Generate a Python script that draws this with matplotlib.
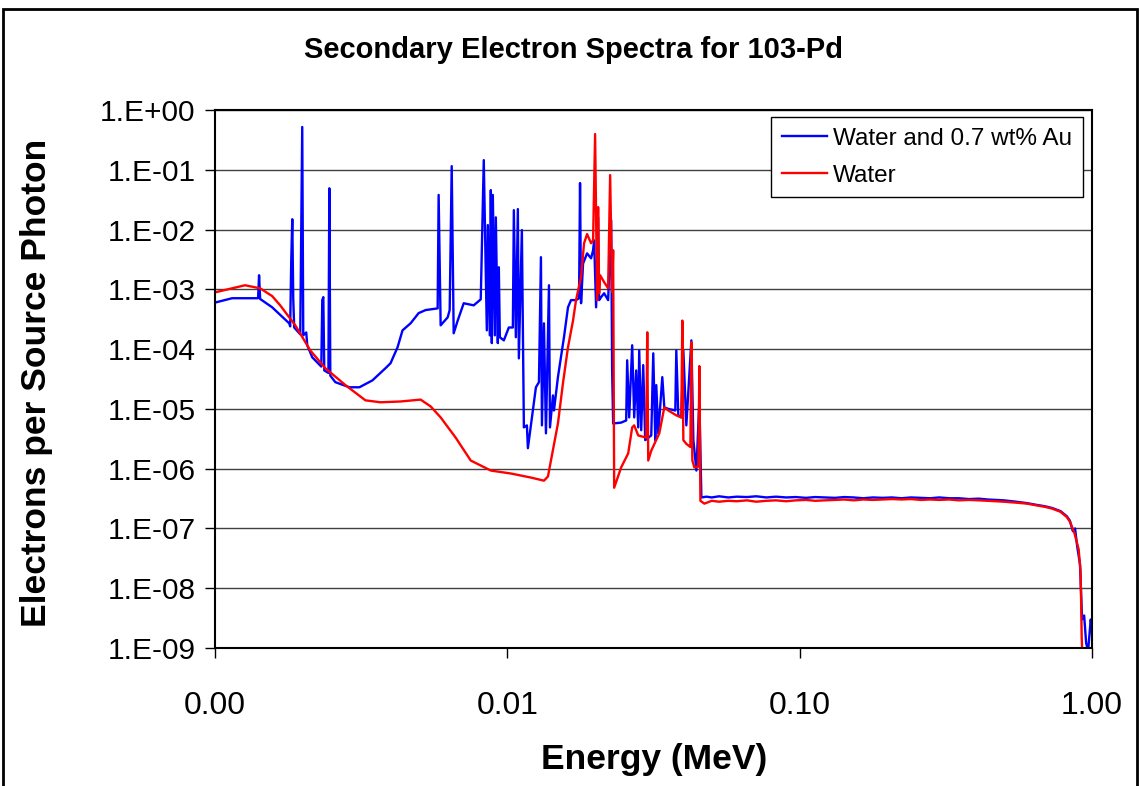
import numpy as np
import matplotlib
matplotlib.use('Agg')
import matplotlib.pyplot as plt
from matplotlib.patches import Rectangle
from matplotlib.ticker import FuncFormatter, NullLocator

plt.rcParams['font.family'] = ['Liberation Sans', 'DejaVu Sans']

# Water and 0.7 wt% Au (energy in MeV, electrons per source photon)
au_energy = [0.001, 0.001144, 0.001404, 0.001415, 0.001427, 0.001569, 0.001794, 0.001808,
             0.001823, 0.001838, 0.001852, 0.001866, 0.001957, 0.001988, 0.002004, 0.002052,
             0.002068, 0.002151, 0.002310, 0.002328, 0.002347, 0.002365, 0.002443, 0.002461,
             0.002480, 0.002580, 0.002883, 0.003119, 0.003456, 0.003831, 0.003985, 0.004211,
             0.004380, 0.004667, 0.004972, 0.005254, 0.005776, 0.005821, 0.005914, 0.006251,
             0.006350, 0.006452, 0.006553, 0.006764, 0.007092, 0.007674, 0.008111, 0.008306,
             0.008508, 0.008575, 0.008710, 0.008780, 0.008850, 0.008920, 0.009062, 0.009134,
             0.009279, 0.009352, 0.009427, 0.009728, 0.010118, 0.010444, 0.010527, 0.010694,
             0.010864, 0.010950, 0.011213, 0.011302, 0.011392, 0.011666, 0.011757, 0.012232,
             0.012525, 0.012827, 0.013030, 0.013134, 0.013342, 0.013555, 0.013881, 0.013990,
             0.014325, 0.014439, 0.014897, 0.015254, 0.015623, 0.016124, 0.016512, 0.017179,
             0.017591, 0.017730, 0.017871, 0.018157, 0.018741, 0.019341, 0.019650, 0.019807,
             0.020122, 0.020443, 0.020604, 0.020933, 0.021432, 0.022122, 0.022654, 0.022832,
             0.023012, 0.024514, 0.025499, 0.025699, 0.026111, 0.026737, 0.027165, 0.027594,
             0.028036, 0.028257, 0.028708, 0.029163, 0.029630, 0.031070, 0.031563, 0.032068,
             0.032321, 0.032838, 0.033890, 0.034433, 0.035538, 0.037546, 0.037844, 0.038451,
             0.039374, 0.040004, 0.040959, 0.042611, 0.043293, 0.044332, 0.045385, 0.046113,
             0.048, 0.050, 0.053, 0.057, 0.061, 0.066, 0.071, 0.077, 0.083, 0.090, 0.097,
             0.105, 0.113, 0.122, 0.132, 0.142, 0.153, 0.165, 0.178, 0.192, 0.207, 0.223,
             0.240, 0.260, 0.280, 0.300, 0.325, 0.350, 0.380, 0.410, 0.440, 0.470, 0.500,
             0.550, 0.600, 0.640, 0.690, 0.730, 0.780, 0.820, 0.840, 0.860, 0.875, 0.890,
             0.910, 0.925, 0.940, 0.955, 0.970, 0.990, 1.000, 1.005]
au_counts = [6.0e-4, 7.1e-4, 7.1e-4, 1.72e-3, 6.9e-4, 5.0e-4, 2.7e-4, 2.4e-4,
             3.0e-3, 1.49e-2, 7.0e-4, 2.3e-4, 1.77e-4, 0.52, 1.7e-4, 1.9e-4,
             1.16e-4, 7.3e-5, 5.1e-5, 6.6e-4, 7.4e-4, 4.4e-5, 4.0e-5, 4.9e-2,
             3.6e-5, 2.8e-5, 2.3e-5, 2.3e-5, 3.0e-5, 4.8e-5, 5.8e-5, 1.07e-4,
             2.06e-4, 2.7e-4, 4.0e-4, 4.5e-4, 4.8e-4, 3.8e-2, 2.5e-4, 3.4e-4,
             4.5e-4, 0.115, 1.84e-4, 3.0e-4, 5.85e-4, 5.4e-4, 6.8e-4, 0.145,
             2.06e-4, 1.19e-2, 1.7e-4, 4.57e-2, 1.26e-4, 3.8e-2, 1.7e-4, 1.6e-2,
             1.26e-4, 2.34e-3, 1.58e-4, 1.4e-4, 2.3e-4, 2.3e-4, 2.11e-2, 1.58e-4,
             2.2e-2, 7.0e-5, 9.8e-3, 2.06e-4, 4.9e-6, 5.3e-6, 2.2e-6, 9.4e-6,
             2.3e-5, 2.8e-5, 3.45e-3, 5.3e-6, 2.7e-4, 3.9e-6, 1.17e-3, 4.9e-6,
             1.68e-5, 9.4e-6, 3.4e-5, 7.3e-5, 1.58e-4, 5.0e-4, 6.6e-4, 6.6e-4,
             7.1e-4, 6.0e-2, 5.85e-4, 2.7e-3, 4.0e-3, 3.3e-3, 4.5e-3, 6.6e-3,
             5.0e-4, 1.6e-2, 6.6e-4, 7.4e-4, 8.6e-4, 6.6e-4, 1.44e-2, 4.4e-5,
             5.7e-6, 5.9e-6, 6.4e-6, 6.5e-5, 7.2e-6, 1.16e-4, 7.2e-6, 4.4e-5,
             4.9e-6, 9.5e-5, 4.4e-6, 5.4e-5, 3.0e-6, 3.6e-6, 8.5e-5, 3.0e-6,
             2.5e-5, 3.9e-6, 3.4e-5, 1.06e-5, 1.0e-5, 9.4e-6, 9.5e-5, 7.8e-6,
             7.2e-6, 9.5e-5, 5.3e-6, 1.4e-4, 3.0e-6, 9.3e-7, 1.39e-5, 3.3e-7,
             3.4e-7, 3.3e-7, 3.45e-7, 3.3e-7, 3.4e-7, 3.35e-7, 3.45e-7, 3.3e-7, 3.4e-7, 3.3e-7, 3.35e-7,
             3.25e-7, 3.35e-7, 3.3e-7, 3.25e-7, 3.35e-7, 3.3e-7, 3.2e-7, 3.3e-7, 3.25e-7, 3.3e-7, 3.2e-7,
             3.3e-7, 3.25e-7, 3.2e-7, 3.3e-7, 3.2e-7, 3.2e-7, 3.1e-7, 3.15e-7, 3.05e-7, 3.0e-7, 2.95e-7,
             2.8e-7, 2.65e-7, 2.5e-7, 2.35e-7, 2.2e-7, 1.95e-7, 1.6e-7, 1.35e-7, 9.0e-8, 1.0e-7, 5.0e-8,
             2.5e-8, 3.0e-9, 3.5e-9, 1.2e-9, 9.0e-10, 3.0e-9, 2.0e-9, 8.0e-10]

# Water only
w_energy = [0.001, 0.001144, 0.001267, 0.001427, 0.001569, 0.001671, 0.001882, 0.002118,
            0.002384, 0.002793, 0.003270, 0.003681, 0.004311, 0.005051, 0.005466, 0.005914,
            0.006658, 0.007494, 0.008780, 0.010280, 0.012040, 0.013342, 0.013771, 0.014100,
            0.014897, 0.015500, 0.016124, 0.016776, 0.017179, 0.017871, 0.018301, 0.018741,
            0.019341, 0.019650, 0.019964, 0.020281, 0.020443, 0.020604, 0.020766, 0.021432,
            0.022122, 0.022472, 0.022832, 0.023012, 0.023198, 0.024514, 0.025907, 0.026737,
            0.027165, 0.028036, 0.029863, 0.030104, 0.030339, 0.031070, 0.033097, 0.034433,
            0.035538, 0.037844, 0.039374, 0.039683, 0.040004, 0.040959, 0.042278, 0.042611,
            0.042946, 0.043634, 0.045032, 0.045385, 0.045752, 0.047219,
            0.050, 0.053, 0.057, 0.061, 0.066, 0.071, 0.077, 0.083, 0.090, 0.097,
            0.105, 0.113, 0.122, 0.132, 0.142, 0.153, 0.165, 0.178, 0.192, 0.207, 0.223,
            0.240, 0.260, 0.280, 0.300, 0.325, 0.350, 0.380, 0.410, 0.440, 0.470, 0.500,
            0.550, 0.600, 0.640, 0.690, 0.730, 0.780, 0.820, 0.840, 0.870, 0.900, 0.913,
            0.918, 0.922, 0.925]
w_counts = [8.9e-4, 1.04e-3, 1.17e-3, 1.04e-3, 7.7e-4, 5.4e-4, 2.5e-4, 9.5e-5,
            4.8e-5, 2.5e-5, 1.39e-5, 1.29e-5, 1.33e-5, 1.43e-5, 1.1e-5, 7.2e-6,
            3.3e-6, 1.37e-6, 9.3e-7, 8.3e-7, 7.1e-7, 6.3e-7, 7.4e-7, 1.37e-6,
            5.7e-6, 2.7e-5, 1.07e-4, 3.0e-4, 6.6e-4, 1.6e-3, 5.9e-3, 8.4e-3,
            5.9e-3, 6.6e-3, 0.396, 6.6e-4, 2.37e-2, 8.6e-4, 1.72e-3, 1.32e-3,
            1.04e-3, 8.15e-2, 9.0e-4, 4.5e-3, 4.8e-7, 1.05e-6, 1.8e-6, 4.9e-6,
            5.3e-6, 3.6e-6, 3.3e-6, 1.91e-4, 1.37e-6, 2.0e-6, 3.9e-6, 1.06e-5,
            9.4e-6, 7.8e-6, 7.2e-6, 3.0e-4, 3.0e-6, 2.6e-6, 2.3e-6, 1.3e-4,
            1.37e-6, 1.05e-6, 1.08e-6, 5.2e-5, 2.9e-7, 2.6e-7,
            2.9e-7, 2.8e-7, 2.9e-7, 2.85e-7, 2.95e-7, 2.8e-7, 2.9e-7, 2.95e-7, 2.85e-7, 2.95e-7,
            3.0e-7, 2.9e-7, 2.95e-7, 3.0e-7, 3.05e-7, 2.95e-7, 3.05e-7, 3.0e-7, 3.05e-7, 3.1e-7, 3.05e-7,
            3.1e-7, 3.0e-7, 3.05e-7, 3.0e-7, 3.05e-7, 2.95e-7, 3.0e-7, 2.95e-7, 2.9e-7, 2.85e-7, 2.8e-7,
            2.7e-7, 2.6e-7, 2.45e-7, 2.3e-7, 2.15e-7, 1.9e-7, 1.55e-7, 1.3e-7, 8.5e-8, 4.5e-8, 2.0e-8,
            6.0e-9, 1.5e-9, 1.0e-9]

y_ticks = [1e0, 1e-1, 1e-2, 1e-3, 1e-4, 1e-5, 1e-6, 1e-7, 1e-8, 1e-9]
x_ticks = [0.001, 0.01, 0.1, 1.0]

W, H = 1139, 786
fig = plt.figure(figsize=(W / 100, H / 100), dpi=100)
ax = fig.add_axes([215 / W, 1 - 648 / H, (1092 - 215) / W, (648 - 110) / H])

ax.plot(au_energy, au_counts, color='#0000ff', lw=1.7, label='Water and 0.7 wt% Au')
ax.plot(w_energy, w_counts, color='#ff0000', lw=1.7, label='Water')

ax.set_xscale('log')
ax.set_yscale('log')
ax.set_xlim(0.001, 1.0)
ax.set_ylim(1e-9, 1.0)

ax.set_yticks(y_ticks)
ax.set_xticks(x_ticks)
ax.yaxis.set_minor_locator(NullLocator())
ax.xaxis.set_minor_locator(NullLocator())


def yfmt(v, pos):
    e = int(round(np.log10(v)))
    return '1.E%s%02d' % ('+' if e >= 0 else '-', abs(e))


ax.yaxis.set_major_formatter(FuncFormatter(yfmt))
ax.xaxis.set_major_formatter(FuncFormatter(lambda v, p: '%.2f' % v))
ax.tick_params(axis='both', direction='out', length=7, width=1, colors='black')
ax.tick_params(axis='y', pad=7, labelsize=21.5)
ax.tick_params(axis='x', pad=24, labelsize=23)

ax.grid(axis='y', which='major', color='#404040', lw=1)
ax.set_axisbelow(True)
for s in ax.spines.values():
    s.set_color('black')
    s.set_linewidth(1.5)

fig.text(573 / W, 1 - 50 / H, 'Secondary Electron Spectra for 103-Pd', ha='center', va='center',
         fontsize=21, fontweight='bold')
fig.text(654 / W, 1 - 760 / H, 'Energy (MeV)', ha='center', va='center', fontsize=25.5, fontweight='bold')
fig.text(37 / W, 1 - 383 / H, 'Electrons per Source Photon', ha='center', va='center', rotation=90,
         fontsize=25.5, fontweight='bold')

leg = ax.legend(loc='upper right', bbox_to_anchor=((1083 - 215) / (1092 - 215), 1 - 7 / 538),
                fontsize=17.5, frameon=True, fancybox=False, framealpha=1, edgecolor='black',
                handlelength=1.85, handletextpad=0.25, borderpad=0.45, labelspacing=0.6,
                borderaxespad=0)
leg.get_frame().set_linewidth(1)

fig.patches.append(Rectangle((3 / W, -0.01), (1137 - 3) / W, 1.01 - 9 / H, transform=fig.transFigure,
                             fill=False, edgecolor='black', lw=2))

fig.savefig('out.png', dpi=100)
